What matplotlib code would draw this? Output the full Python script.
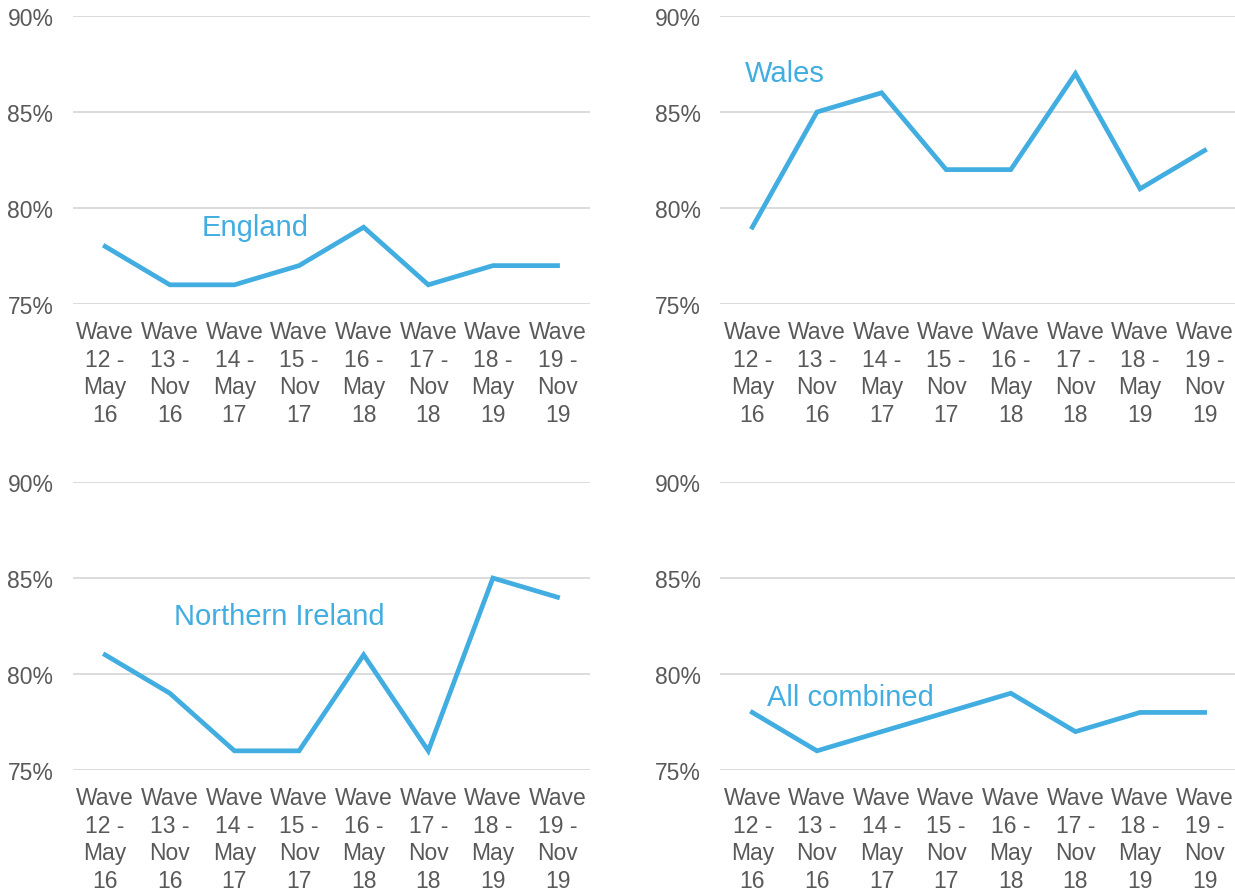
import matplotlib.pyplot as plt
import numpy as np

plt.rcParams['font.family'] = ['Liberation Sans', 'DejaVu Sans']

waves = ["Wave\n12 -\nMay\n16", "Wave\n13 -\nNov\n16", "Wave\n14 -\nMay\n17", "Wave\n15 -\nNov\n17",
         "Wave\n16 -\nMay\n18", "Wave\n17 -\nNov\n18", "Wave\n18 -\nMay\n19", "Wave\n19 -\nNov\n19"]

england = [78, 76, 76, 77, 79, 76, 77, 77]
wales = [79, 85, 86, 82, 82, 87, 81, 83]
northern_ireland = [81, 79, 76, 76, 81, 76, 85, 84]
all_combined = [78, 76, 77, 78, 79, 77, 78, 78]

panels = [
    ("England", england, (2.32, 79.0)),
    ("Wales", wales, (0.51, 87.05)),
    ("Northern Ireland", northern_ireland, (2.69, 83.0)),
    ("All combined", all_combined, (1.52, 78.8)),
]

line_color = "#41ade0"
text_color = "#595959"
grid_color = "#d9d9d9"

fig = plt.figure(figsize=(12.35, 8.95), dpi=100)
positions = [
    [0.059, 0.6592, 0.4186, 0.3218],
    [0.583, 0.6592, 0.4186, 0.3218],
    [0.059, 0.1385, 0.4186, 0.3218],
    [0.583, 0.1385, 0.4186, 0.3218],
]

for pos, (name, values, (lx, ly)) in zip(positions, panels):
    ax = fig.add_axes(pos)
    x = np.arange(len(waves))
    ax.plot(x, values, color=line_color, linewidth=3.4, solid_joinstyle="miter")
    ax.set_xlim(-0.5, len(waves) - 0.5)
    ax.set_ylim(75, 90)
    ax.set_yticks([75, 80, 85, 90])
    ax.set_yticklabels(["75%", "80%", "85%", "90%"])
    ax.set_xticks(x)
    ax.set_xticklabels(waves, linespacing=1.26)
    ax.tick_params(axis="both", length=0, labelsize=16.5, labelcolor=text_color)
    ax.tick_params(axis="y", pad=14)
    ax.tick_params(axis="x", pad=11.5)
    for s in ax.spines.values():
        s.set_visible(False)
    ax.grid(axis="y", color=grid_color, linewidth=1.3)
    ax.set_axisbelow(True)
    ax.text(lx, ly, name, color=line_color, fontsize=21, ha="center", va="center")

fig.savefig("out.png", dpi=100)
